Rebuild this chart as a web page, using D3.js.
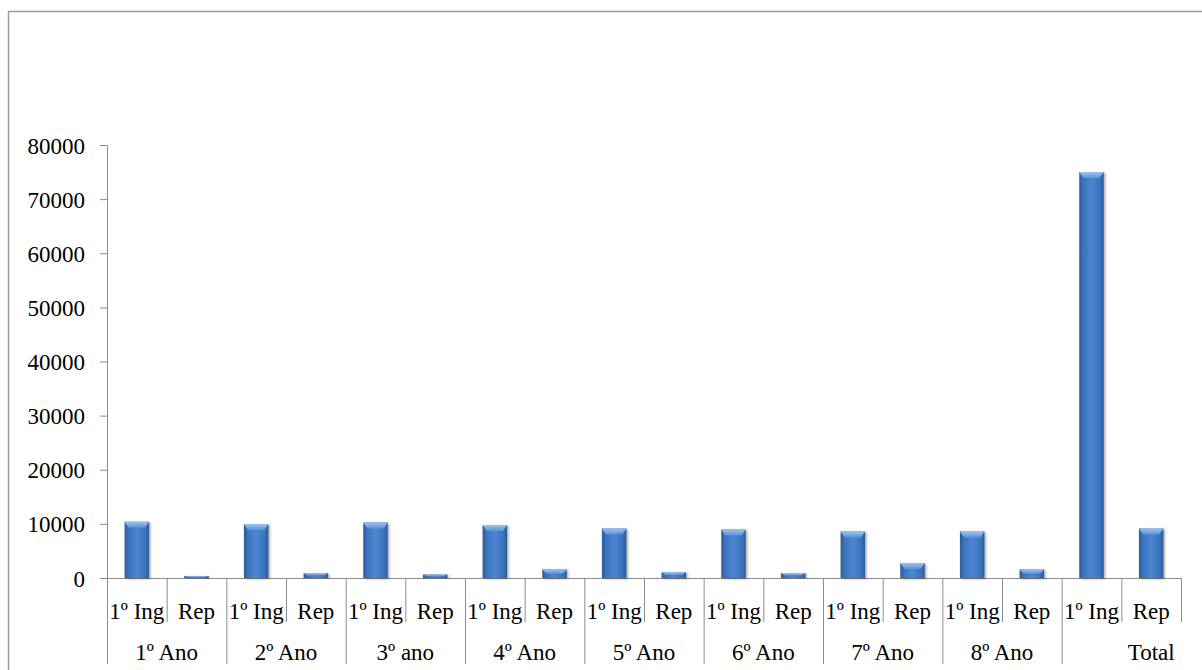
<!DOCTYPE html>
<html>
<head>
<meta charset="utf-8">
<script src="https://cdn.jsdelivr.net/npm/d3@7"></script>
<style>
  html, body { margin: 0; padding: 0; background: #fff; }
  svg { display: block; }
  text { font-family: "Liberation Serif", "Times New Roman", serif; fill: #000; }
</style>
</head>
<body>
<svg id="chart" width="1202" height="670"></svg>
<script>
const groups = ["1º Ano", "2º Ano", "3º ano", "4º Ano", "5º Ano", "6º Ano", "7º Ano", "8º Ano", "Total"];
const subCategories = ["1º Ing", "Rep"];
const ingValues = [10400, 9970, 10270, 9790, 9160, 8970, 8600, 8600, 75000];
const repValues = [370, 920, 660, 1590, 1110, 920, 2770, 1590, 9160];
const yTicks = [0, 10000, 20000, 30000, 40000, 50000, 60000, 70000, 80000];

(function () {
const svg = d3.select("#chart");
const W = 1202, H = 670;
const plotLeft = 107, plotRight = 1181, plotTop = 145, base = 578;
const axisColor = "#8c8c8c";
const fontSize = 23;

// outer frame
svg.append("path")
  .attr("d", `M8.5,${H} V11.5 H${W}`)
  .attr("fill", "none").attr("stroke", "#9a9a9a").attr("stroke-width", 1.5);

const defs = svg.append("defs");
const gBody = defs.append("linearGradient").attr("id", "body").attr("x1", "0").attr("x2", "1").attr("y1", "0").attr("y2", "0");
gBody.append("stop").attr("offset", "0").attr("stop-color", "#2b5a99");
gBody.append("stop").attr("offset", "0.15").attr("stop-color", "#3c72bb");
gBody.append("stop").attr("offset", "0.5").attr("stop-color", "#4c86d3");
gBody.append("stop").attr("offset", "0.85").attr("stop-color", "#3c72bb");
gBody.append("stop").attr("offset", "1").attr("stop-color", "#2b5a99");
const gTop = defs.append("linearGradient").attr("id", "cap").attr("x1", "0").attr("x2", "0").attr("y1", "0").attr("y2", "1");
gTop.append("stop").attr("offset", "0").attr("stop-color", "#9cc4f2");
gTop.append("stop").attr("offset", "1").attr("stop-color", "#5a93d8");
const filt = defs.append("filter").attr("id", "shadow").attr("x", "-30%").attr("y", "-10%").attr("width", "160%").attr("height", "130%");
filt.append("feDropShadow").attr("dx", 1.5).attr("dy", 1).attr("stdDeviation", 1.2).attr("flood-color", "#000").attr("flood-opacity", 0.35);

const x0 = d3.scaleBand().domain(groups).range([plotLeft, plotRight]).padding(0);
const x1 = d3.scaleBand().domain(subCategories).range([0, x0.bandwidth()]).padding(0);
const y = d3.scaleLinear().domain([0, 80000]).range([base, plotTop]);

// y axis
const yAxis = d3.axisLeft(y).tickValues(yTicks).tickSize(7).tickPadding(15).tickFormat(d3.format("d"));
const ya = svg.append("g").attr("transform", `translate(${plotLeft},0)`).call(yAxis);
ya.attr("font-family", null);
ya.select(".domain").attr("stroke", axisColor).attr("d", `M-7,${plotTop + 0.5}H0.5V${base}`);
ya.selectAll(".tick line").attr("stroke", axisColor);
ya.selectAll(".tick text").attr("font-size", fontSize).attr("dy", "0.35em");

// baseline
svg.append("line").attr("x1", plotLeft).attr("x2", plotRight).attr("y1", base + 0.5).attr("y2", base + 0.5).attr("stroke", axisColor);

// dividers
const subBottom = 622, groupBottom = 664;
svg.append("line").attr("x1", plotLeft + 0.5).attr("x2", plotLeft + 0.5).attr("y1", base).attr("y2", groupBottom).attr("stroke", axisColor);
groups.forEach((g, i) => {
  const gx = x0(g);
  const mid = gx + x1("Rep");
  svg.append("line").attr("x1", mid + 0.5).attr("x2", mid + 0.5).attr("y1", base).attr("y2", subBottom).attr("stroke", axisColor);
  const end = gx + x0.bandwidth();
  const last = i === groups.length - 1;
  svg.append("line").attr("x1", end + 0.5).attr("x2", end + 0.5).attr("y1", base).attr("y2", last ? subBottom : groupBottom).attr("stroke", axisColor);
});

// bars
const rows = [];
groups.forEach((g, i) => {
  rows.push({ group: g, sub: "1º Ing", value: ingValues[i] });
  rows.push({ group: g, sub: "Rep", value: repValues[i] });
});
const bw = x1.bandwidth() * 0.41;
const bars = svg.append("g").selectAll("g").data(rows).join("g")
  .attr("transform", d => `translate(${x0(d.group) + x1(d.sub) + x1.bandwidth() / 2 - bw / 2},0)`);
bars.append("rect")
  .attr("x", 0).attr("y", d => y(d.value)).attr("width", bw).attr("height", d => base - y(d.value))
  .attr("fill", "url(#body)").attr("filter", "url(#shadow)");
bars.append("path")
  .attr("d", d => {
    const h = Math.min(6, (base - y(d.value)) / 2);
    const t = y(d.value);
    return `M0,${t} H${bw} L${bw - 4},${t + h} H4 Z`;
  })
  .attr("fill", "url(#cap)");

// sub labels
rows.forEach(d => {
  svg.append("text")
    .attr("x", x0(d.group) + x1(d.sub) + x1.bandwidth() / 2)
    .attr("y", 611).attr("dy", "0.35em")
    .attr("text-anchor", "middle").attr("font-size", fontSize)
    .text(d.sub);
});
// group labels
groups.forEach((g, i) => {
  const last = i === groups.length - 1;
  const cx = last ? x0(g) + x1("Rep") + x1.bandwidth() / 2 : x0(g) + x0.bandwidth() / 2;
  svg.append("text")
    .attr("x", cx).attr("y", 652).attr("dy", "0.35em")
    .attr("text-anchor", "middle").attr("font-size", fontSize)
    .text(g);
});
})();
</script>
</body>
</html>
